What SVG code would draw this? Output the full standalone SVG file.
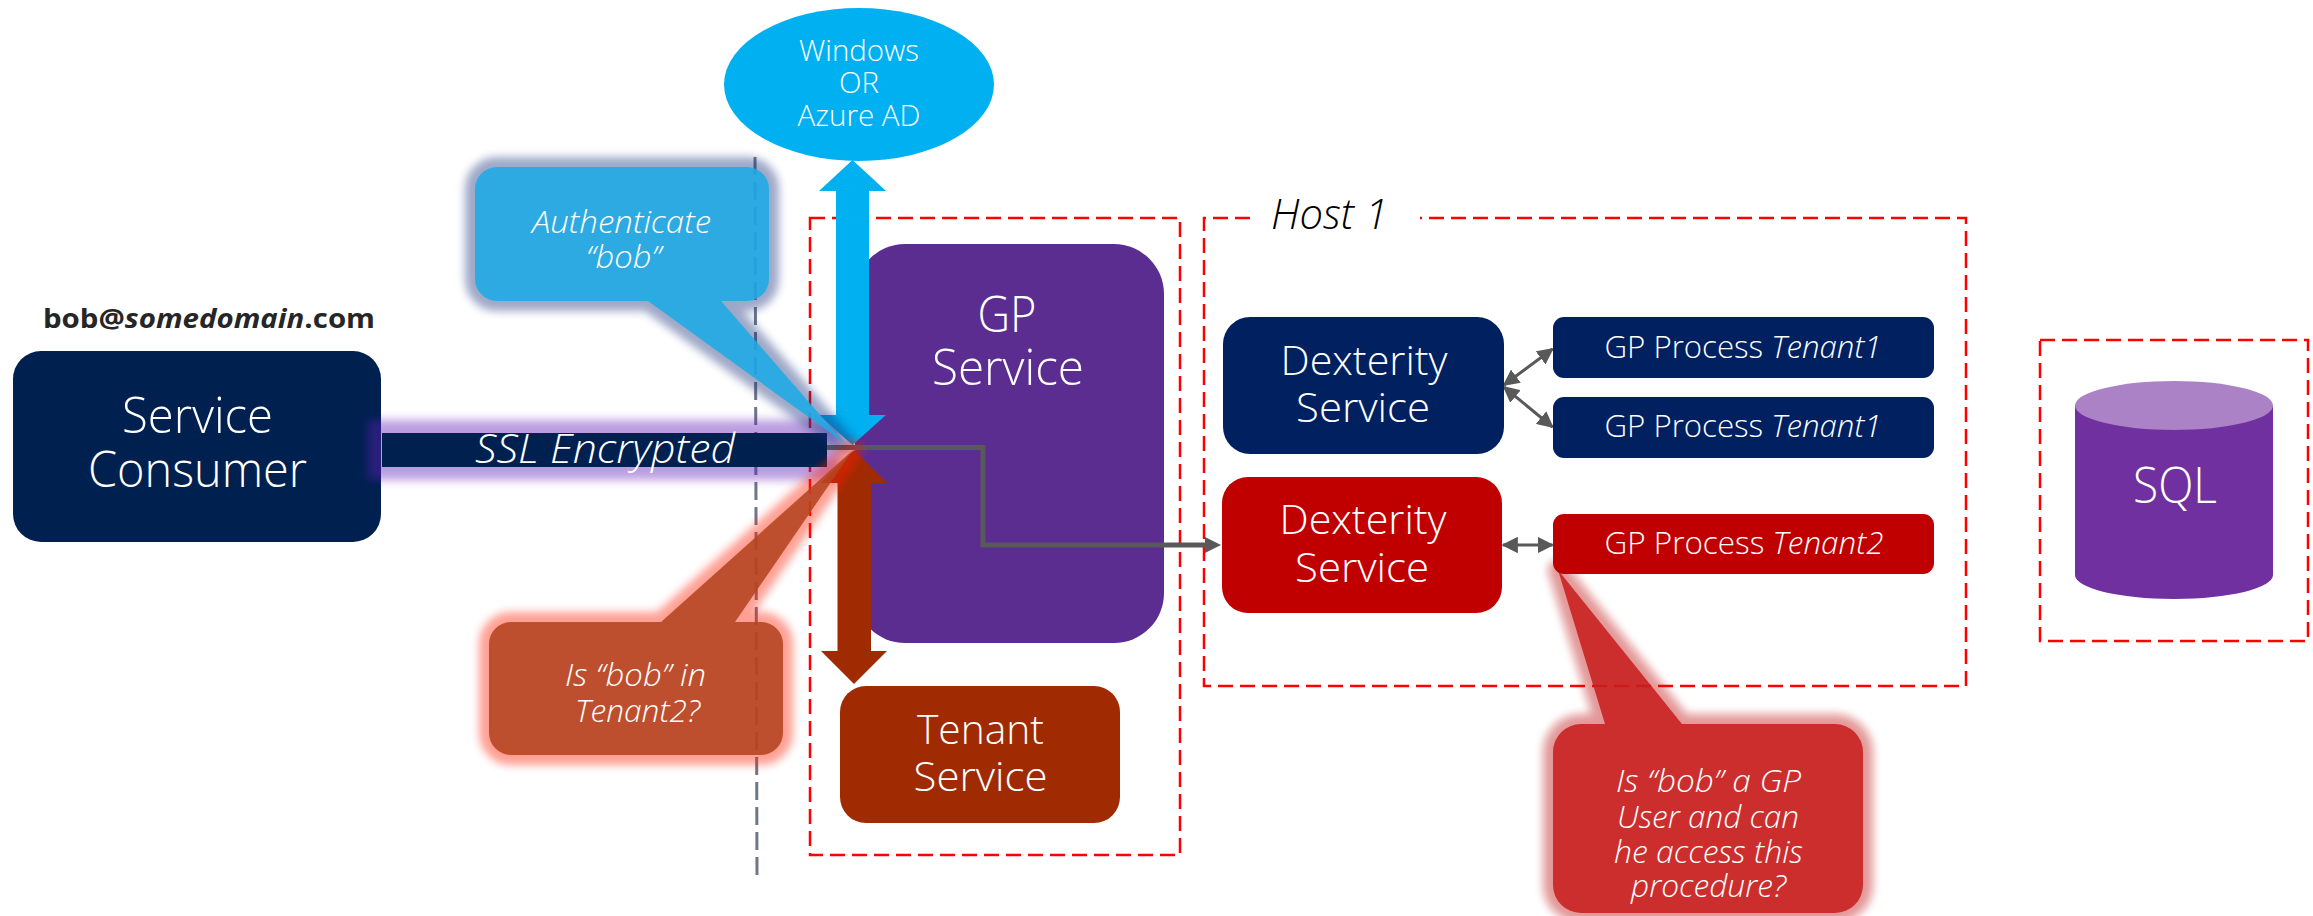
<svg xmlns="http://www.w3.org/2000/svg" width="2313" height="916" viewBox="0 0 2313 916">
<style>
text{font-family:"Open Sans","Liberation Sans",sans-serif;fill:#fff;font-weight:350;text-anchor:middle}
.i{font-style:italic}
.box{fill:none;stroke:#f00;stroke-width:2.5;stroke-dasharray:15 7}
.navy{fill:#002060}
.red{fill:#c00000}
.conn{fill:none;stroke:#595959;stroke-width:5}
.thin{fill:none;stroke:#595959;stroke-width:3;marker-start:url(#ah);marker-end:url(#ah)}
.f30{font-size:31px}.f40{font-size:41px}.f48{font-size:49px}.f28{font-size:29px}
.glow{stroke-width:20;stroke-linejoin:round;filter:url(#g1)}
.body{opacity:.88}
</style>
<defs>
<filter id="g1" x="-30%" y="-30%" width="160%" height="160%"><feGaussianBlur stdDeviation="4"/></filter>
<filter id="g2" x="-10%" y="-100%" width="120%" height="300%"><feGaussianBlur stdDeviation="5"/></filter>
<marker id="ah" viewBox="0 0 10 10" refX="9" refY="5" markerWidth="5.500" markerHeight="5.500" orient="auto-start-reverse"><path d="M0 0L10 5L0 10z" fill="#595959"/></marker>
</defs>
<rect width="2313" height="916" fill="#fff"/>
<g id="boxes">
<rect class="box" x="810" y="218" width="370" height="637"/>
<path class="box" d="M1250 218H1204V686H1966V218H1420"/>
<rect class="box" x="2040" y="340" width="268" height="301"/>
</g>
<g id="host-label"><text class="i f40" x="1329.500" y="229" textLength="117" lengthAdjust="spacingAndGlyphs" style="fill:#000;font-size:43px">Host 1</text></g>
<path id="boundary" d="M755 157L757 877" fill="none" stroke="#6e7689" stroke-width="3" stroke-dasharray="18 7"/>
<g id="service-consumer">
<rect x="13" y="351" width="368" height="191" rx="28" fill="#002050"/>
<text class="f48" x="197.500" y="433" textLength="151" lengthAdjust="spacingAndGlyphs">Service</text>
<text class="f48" x="197.500" y="487" textLength="219" lengthAdjust="spacingAndGlyphs">Consumer</text>
</g>
<text id="user" x="209" y="328" font-size="27" textLength="332" lengthAdjust="spacingAndGlyphs" style="fill:#262626;font-weight:700">bob@<tspan class="i">somedomain</tspan>.com</text>
<g id="gp-service">
<rect x="855" y="244" width="309" height="399" rx="50" fill="#5c2d91"/>
<text class="f48" x="1007" y="332" textLength="59" lengthAdjust="spacingAndGlyphs">GP</text>
<text class="f48" x="1008" y="385" textLength="152" lengthAdjust="spacingAndGlyphs">Service</text>
</g>
<g id="ssl-link">
<rect x="368" y="420" width="472" height="60" fill="#621cb8" opacity=".43" filter="url(#g2)"/>
<rect x="382" y="433" width="445" height="34" fill="#002050"/>
<text class="i f40" x="605" y="463" textLength="260" lengthAdjust="spacingAndGlyphs">SSL Encrypted</text>
</g>
<g id="windows-ad">
<ellipse cx="859" cy="84.500" rx="135" ry="76.500" fill="#00b0f0"/>
<text class="f28" x="859" y="61" textLength="120" lengthAdjust="spacingAndGlyphs">Windows</text>
<text class="f28" x="859" y="93" textLength="40" lengthAdjust="spacingAndGlyphs">OR</text>
<text class="f28" x="859" y="126" textLength="123" lengthAdjust="spacingAndGlyphs">Azure AD</text>
</g>
<g id="tenant-service">
<rect x="840" y="686" width="280" height="137" rx="26" fill="#a02b03"/>
<text class="f40" x="980.500" y="744" textLength="127" lengthAdjust="spacingAndGlyphs">Tenant</text>
<text class="f40" x="980.500" y="791" textLength="134" lengthAdjust="spacingAndGlyphs">Service</text>
</g>
<g id="connectors">
<path d="M852.500 160L886 191H869V415H886L852.500 445L819 415H836V191H819z" fill="#00b0f0"/>
<path d="M854 450L887 483H871V651H887L854 684L821 651H837.500V483H821z" fill="#a02b03"/>
<path class="conn" d="M827 447.500H983V545H1208"/>
<path d="M1205 537L1221 545L1205 553z" fill="#595959"/>
<path class="thin" d="M1504 385L1552.500 349"/>
<path class="thin" d="M1504 387L1552.500 427"/>
<path class="thin" d="M1503 545H1552.500"/>
</g>
<g id="callout-auth">
<path class="glow" d="M497 167H747a22 22 0 0 1 22 22V279a22 22 0 0 1-22 22H721L844.500 443L648 301H497a22 22 0 0 1-22-22V189a22 22 0 0 1 22-22z" fill="#182e7b" stroke="#182e7b" opacity=".415"/>
<path class="body" d="M497 167H747a22 22 0 0 1 22 22V279a22 22 0 0 1-22 22H721L844.500 443L648 301H497a22 22 0 0 1-22-22V189a22 22 0 0 1 22-22z" fill="#1fabe6"/>
<text class="i f30" x="621.500" y="233" textLength="179" lengthAdjust="spacingAndGlyphs">Authenticate</text>
<text class="i f30" x="623.500" y="268" textLength="75" lengthAdjust="spacingAndGlyphs">“bob”</text>
</g>
<g id="callout-tenant">
<path class="glow" d="M511 622H661L853 450L735 622H761a22 22 0 0 1 22 22V733a22 22 0 0 1-22 22H511a22 22 0 0 1-22-22V644a22 22 0 0 1 22-22z" fill="#ff1a05" stroke="#ff1a05" opacity=".42"/>
<path class="body" d="M511 622H661L853 450L735 622H761a22 22 0 0 1 22 22V733a22 22 0 0 1-22 22H511a22 22 0 0 1-22-22V644a22 22 0 0 1 22-22z" fill="#b54420"/>
<text class="i f30" x="635.500" y="686" textLength="141" lengthAdjust="spacingAndGlyphs">Is “bob” in</text>
<text class="i f30" x="637.500" y="722" textLength="125" lengthAdjust="spacingAndGlyphs">Tenant2?</text>
</g>
<g id="dexterity-1">
<rect x="1223" y="317" width="281" height="137" rx="27" class="navy"/>
<text class="f40" x="1364" y="375" textLength="167" lengthAdjust="spacingAndGlyphs">Dexterity</text>
<text class="f40" x="1363" y="422" textLength="134" lengthAdjust="spacingAndGlyphs">Service</text>
</g>
<g id="dexterity-2">
<rect x="1222" y="477" width="280" height="136" rx="26" class="red"/>
<text class="f40" x="1363" y="534" textLength="167" lengthAdjust="spacingAndGlyphs">Dexterity</text>
<text class="f40" x="1362" y="582" textLength="134" lengthAdjust="spacingAndGlyphs">Service</text>
</g>
<g id="callout-gp">
<path class="glow" d="M1581 724H1605L1558 570L1682 724H1835a28 28 0 0 1 28 28V885a28 28 0 0 1-28 28H1581a28 28 0 0 1-28-28V752a28 28 0 0 1 28-28z" fill="#be0e11" stroke="#be0e11" opacity=".42"/>
<path class="body" d="M1581 724H1605L1558 570L1682 724H1835a28 28 0 0 1 28 28V885a28 28 0 0 1-28 28H1581a28 28 0 0 1-28-28V752a28 28 0 0 1 28-28z" fill="#c81f1f"/>
<text class="i f30" x="1708.500" y="792" textLength="185" lengthAdjust="spacingAndGlyphs">Is “bob” a GP</text>
<text class="i f30" x="1708" y="828" textLength="182" lengthAdjust="spacingAndGlyphs">User and can</text>
<text class="i f30" x="1708.500" y="863" textLength="189" lengthAdjust="spacingAndGlyphs">he access this</text>
<text class="i f30" x="1708.500" y="897" textLength="155" lengthAdjust="spacingAndGlyphs">procedure?</text>
</g>
<g id="gp-process-1">
<rect x="1553" y="317" width="381" height="61" rx="11" class="navy"/>
<text class="f30" x="1743" y="358" textLength="277" lengthAdjust="spacingAndGlyphs">GP Process <tspan class="i">Tenant1</tspan></text>
</g>
<g id="gp-process-2">
<rect x="1553" y="397" width="381" height="61" rx="11" class="navy"/>
<text class="f30" x="1743" y="437" textLength="277" lengthAdjust="spacingAndGlyphs">GP Process <tspan class="i">Tenant1</tspan></text>
</g>
<g id="gp-process-3">
<rect x="1553" y="514" width="381" height="60" rx="11" class="red"/>
<text class="f30" x="1744" y="554" textLength="279" lengthAdjust="spacingAndGlyphs">GP Process <tspan class="i">Tenant2</tspan></text>
</g>
<g id="sql">
<path d="M2075 405.500V575C2075 588 2119 599 2174 599S2273 588 2273 575V405.500z" fill="#7030a0"/>
<ellipse cx="2174" cy="405.500" rx="99" ry="24.500" fill="#aa82c5"/>
<text class="f48" x="2175" y="503" textLength="84" lengthAdjust="spacingAndGlyphs">SQL</text>
</g>
</svg>
